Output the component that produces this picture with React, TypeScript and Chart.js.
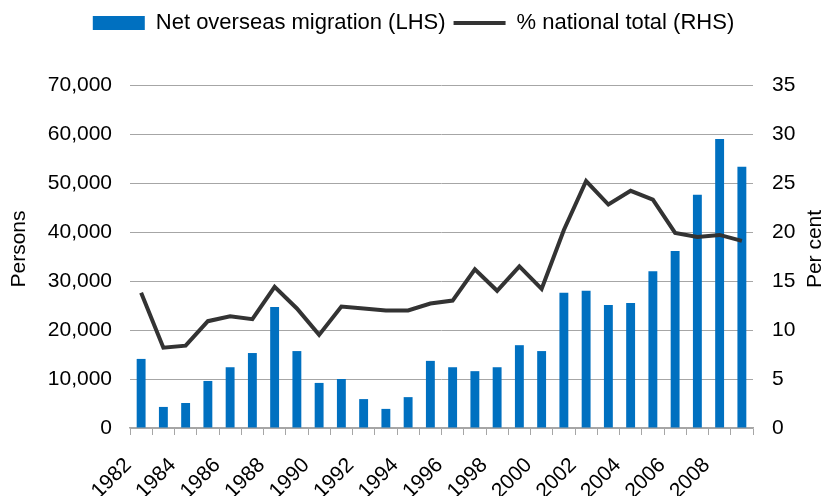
import React, { useEffect, useRef } from "react";
import { Chart, registerables } from "chart.js";

Chart.register(...registerables);

const years = [
  "1982", "1983", "1984", "1985", "1986", "1987", "1988", "1989", "1990", "1991",
  "1992", "1993", "1994", "1995", "1996", "1997", "1998", "1999", "2000", "2001",
  "2002", "2003", "2004", "2005", "2006", "2007", "2008", "2009",
];

const netOverseasMigration = [
  14100, 4300, 5100, 9600, 12400, 15300, 24700, 15700, 9200, 10000,
  5900, 3900, 6300, 13700, 12400, 11600, 12400, 16900, 15700, 27600,
  28000, 25100, 25500, 32000, 36100, 47600, 59000, 53300,
];

const pctNationalTotal = [
  13.8, 8.2, 8.4, 10.9, 11.4, 11.1, 14.4, 12.2, 9.5, 12.4,
  12.2, 12.0, 12.0, 12.7, 13.0, 16.2, 14.0, 16.5, 14.2, 20.2,
  25.2, 22.8, 24.2, 23.3, 19.9, 19.5, 19.7, 19.1,
];

const legendLabels = ["Net overseas migration (LHS)", "% national total (RHS)"];
const leftTitle = "Persons";
const rightTitle = "Per cent";

const FONT = "'Liberation Sans', Arial, sans-serif";
const BAR_COLOR = "#0070C0";
const LINE_COLOR = "#333333";
const GRID_COLOR = "#a6a6a6";

const titlesPlugin = {
  id: "axisTitles",
  afterInit(chart: any) {
    const legend = chart.legend;
    if (legend) {
      const origFit = legend.fit.bind(legend);
      legend.fit = function () {
        origFit();
        this.height = 81;
      };
    }
  },
  afterDraw(chart: any) {
    const ctx = chart.ctx;
    const draw = (text: string, x: number) => {
      ctx.save();
      ctx.fillStyle = "#000";
      ctx.font = `21px ${FONT}`;
      ctx.textAlign = "center";
      ctx.textBaseline = "middle";
      ctx.translate(x, 249);
      ctx.rotate(-Math.PI / 2);
      ctx.fillText(text, 0, 0);
      ctx.restore();
    };
    draw(leftTitle, 19);
    draw(rightTitle, 815);
  },
};

export default function App() {
  const canvasRef = useRef<HTMLCanvasElement | null>(null);

  useEffect(() => {
    if (!canvasRef.current) return;
    const chart = new Chart(canvasRef.current, {
      type: "bar",
      data: {
        labels: years,
        datasets: [
          {
            type: "bar",
            label: legendLabels[0],
            data: netOverseasMigration,
            backgroundColor: BAR_COLOR,
            borderWidth: 0,
            barPercentage: 0.4,
            categoryPercentage: 1,
            yAxisID: "y",
            order: 1,
          },
          {
            type: "line",
            label: legendLabels[1],
            data: pctNationalTotal,
            borderColor: LINE_COLOR,
            backgroundColor: LINE_COLOR,
            borderWidth: 4,
            pointRadius: 0,
            tension: 0,
            yAxisID: "y1",
            order: 0,
          } as any,
        ],
      },
      options: {
        animation: false,
        responsive: true,
        maintainAspectRatio: false,
        layout: { padding: { top: 4, left: 0, right: 0, bottom: 0 } },
        plugins: {
          tooltip: { enabled: false },
          legend: {
            position: "top",
            labels: {
              font: { family: FONT, size: 22 },
              color: "#000",
              padding: 8,
              usePointStyle: true,
              pointStyleWidth: 52,
              boxWidth: 52,
              boxHeight: 14,
              generateLabels: (c: any) => {
                const items = Chart.defaults.plugins.legend.labels.generateLabels(c);
                items.sort((a: any, b: any) => a.datasetIndex - b.datasetIndex);
                items.forEach((it: any) => {
                  if (it.datasetIndex === 0) {
                    it.pointStyle = "rect";
                    it.fillStyle = BAR_COLOR;
                    it.strokeStyle = BAR_COLOR;
                    it.lineWidth = 0;
                  } else {
                    it.pointStyle = "line";
                    it.strokeStyle = LINE_COLOR;
                    it.lineWidth = 4;
                  }
                });
                return items;
              },
            },
          },
        },
        scales: {
          x: {
            offset: true,
            grid: {
              display: true,
              drawOnChartArea: false,
              drawTicks: true,
              tickLength: 7,
              color: GRID_COLOR,
              offset: true,
            },
            border: { display: true, color: GRID_COLOR, width: 1.5 },
            ticks: {
              autoSkip: false,
              maxRotation: 45,
              minRotation: 45,
              padding: 18,
              labelOffset: -13,
              color: "#000",
              font: { family: FONT, size: 21 },
              callback: (_v: any, i: number) => (i % 2 === 0 ? years[i] : ""),
            },
            afterFit: (scale: any) => {
              scale.height = 68;
            },
          },
          y: {
            position: "left",
            min: 0,
            max: 70000,
            grid: { color: GRID_COLOR, drawTicks: false, lineWidth: 1 },
            border: { display: false },
            ticks: {
              stepSize: 10000,
              padding: 18,
              color: "#000",
              font: { family: FONT, size: 21 },
              callback: (v: any) => Number(v).toLocaleString("en-US"),
            },
            afterFit: (scale: any) => {
              scale.width = 130;
            },
          },
          y1: {
            position: "right",
            min: 0,
            max: 35,
            grid: { drawOnChartArea: false, drawTicks: false },
            border: { display: false },
            ticks: {
              stepSize: 5,
              padding: 19,
              color: "#000",
              font: { family: FONT, size: 21 },
            },
            afterFit: (scale: any) => {
              scale.width = 74;
            },
          },
        },
      },
      plugins: [titlesPlugin],
    });
    return () => chart.destroy();
  }, []);

  return (
    <div style={{ position: "fixed", left: 0, top: 0, width: 827, height: 496, background: "#fff" }}>
      <canvas ref={canvasRef} />
    </div>
  );
}
